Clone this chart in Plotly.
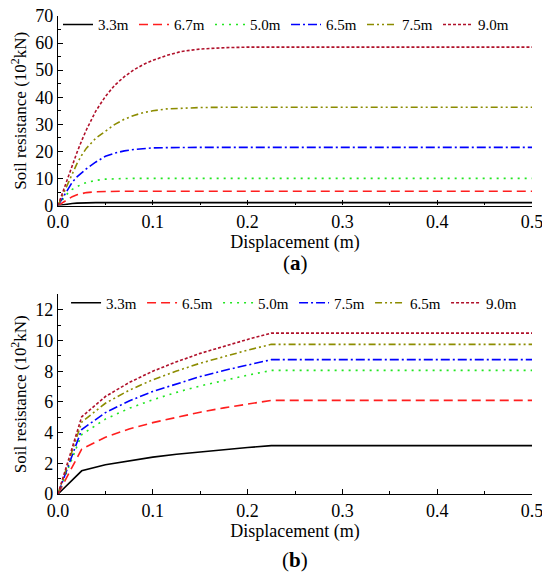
import plotly.graph_objects as go

# ---------- data (a) ----------
x_a = [0, 0.005, 0.01, 0.015, 0.02, 0.025, 0.03, 0.04, 0.05, 0.06, 0.07, 0.08, 0.09,
       0.1, 0.115, 0.13, 0.15, 0.175, 0.2, 0.25, 0.3, 0.35, 0.4, 0.45, 0.5]
a_33 = [0, 0.3, 0.55, 0.75, 0.9, 1.0, 1.05, 1.1, 1.1, 1.1, 1.1, 1.1, 1.1,
        1.1, 1.1, 1.1, 1.1, 1.1, 1.1, 1.1, 1.1, 1.1, 1.1, 1.1, 1.1]
a_67 = [0, 1.2, 2.3, 3.3, 4.0, 4.5, 4.8, 5.1, 5.25, 5.3, 5.3, 5.3, 5.3,
        5.3, 5.3, 5.3, 5.3, 5.3, 5.3, 5.3, 5.3, 5.3, 5.3, 5.3, 5.3]
a_50 = [0, 2.4, 4.4, 6.0, 7.1, 7.9, 8.5, 9.3, 9.75, 9.95, 10.0, 10.05, 10.05,
        10.05, 10.05, 10.05, 10.05, 10.05, 10.05, 10.05, 10.05, 10.05, 10.05, 10.05, 10.05]
a_65 = [0, 3.0, 6.0, 8.6, 10.6, 12.2, 13.6, 16.1, 18.2, 19.4, 20.2, 20.7, 21.1,
        21.3, 21.4, 21.5, 21.5, 21.5, 21.5, 21.5, 21.5, 21.5, 21.5, 21.5, 21.5]
a_75 = [0, 4.0, 8.0, 12.0, 15.5, 18.6, 21.2, 24.9, 27.5, 30.0, 31.9, 33.3, 34.3,
        35.0, 35.7, 36.0, 36.2, 36.3, 36.3, 36.3, 36.3, 36.3, 36.3, 36.3, 36.3]
a_90 = [0, 5.0, 10.0, 15.0, 19.6, 24.0, 28.0, 35.0, 40.3, 44.5, 47.6, 50.1, 52.1,
        53.6, 55.5, 56.9, 57.8, 58.3, 58.5, 58.5, 58.5, 58.5, 58.5, 58.5, 58.5]

# ---------- data (b) ----------
x_b = [0, 0.025, 0.05, 0.075, 0.1, 0.125, 0.15, 0.175, 0.2, 0.225, 0.5]
b_33 = [0, 1.51, 1.91, 2.18, 2.40, 2.59, 2.75, 2.90, 3.03, 3.15, 3.15]
b_65 = [0, 2.93, 3.70, 4.23, 4.65, 5.01, 5.33, 5.61, 5.86, 6.10, 6.10]
b_50 = [0, 3.87, 4.88, 5.58, 6.14, 6.62, 7.04, 7.41, 7.74, 8.05, 8.05]
b_75 = [0, 4.20, 5.30, 6.06, 6.68, 7.19, 7.65, 8.05, 8.41, 8.75, 8.75]
b_65b = [0, 4.68, 5.91, 6.76, 7.44, 8.01, 8.52, 8.97, 9.37, 9.75, 9.75]
b_90 = [0, 5.03, 6.35, 7.26, 8.00, 8.61, 9.16, 9.64, 10.07, 10.48, 10.48]

names_a = ["3.3m", "6.7m", "5.0m", "6.5m", "7.5m", "9.0m"]
names_b = ["3.3m", "6.5m", "5.0m", "7.5m", "6.5m", "9.0m"]

colors = ["#000000", "#FF1E1E", "#22E622", "#0000FF", "#8C8C00", "#B0102A"]
dashes = ["solid", "9px,5px", "2px,5px", "9px,3px,2px,3px",
          "7px,3px,2px,3px,2px,3px", "3px,2px"]

FONT = "Times New Roman, Liberation Serif, DejaVu Serif, serif"

fig = go.Figure()
for ys, nm, c, d in zip([a_33, a_67, a_50, a_65, a_75, a_90], names_a, colors, dashes):
    fig.add_trace(go.Scatter(x=x_a, y=ys, name=nm, mode="lines",
                             line=dict(color=c, dash=d, width=1.6),
                             xaxis="x", yaxis="y", legend="legend"))
for ys, nm, c, d in zip([b_33, b_65, b_50, b_75, b_65b, b_90], names_b, colors, dashes):
    fig.add_trace(go.Scatter(x=x_b, y=ys, name=nm, mode="lines",
                             line=dict(color=c, dash=d, width=1.6),
                             xaxis="x2", yaxis="y2", legend="legend2"))

axis_common = dict(showline=True, linecolor="black", linewidth=1.3, ticks="inside",
                   ticklen=5, tickwidth=1.2, tickcolor="black", showgrid=False,
                   zeroline=False, tickfont=dict(family=FONT, size=18, color="black"),
                   mirror=False, automargin=False, ticklabeloverflow="allow")

ytitle = dict(text="Soil resistance (10<sup>2</sup>kN)",
              font=dict(family=FONT, size=17, color="black"), standoff=4)
xtitle = dict(text="Displacement (m)", font=dict(family=FONT, size=18, color="black"),
              standoff=0)

legend_common = dict(orientation="h", xanchor="left",
                     font=dict(family=FONT, size=15, color="black"),
                     bgcolor="rgba(0,0,0,0)", borderwidth=0,
                     entrywidth=31, entrywidthmode="pixels", itemwidth=30,
                     tracegroupgap=0)

# page body has an 8px margin: figure is sized/offset to compensate
W, H = 534, 569
ML, MR, MT, MB = 49.5, 9.5, 7.7, 82.7
PH = H - MT - MB

fig.update_layout(
    width=W, height=H,
    margin=dict(l=ML, r=MR, t=MT, b=MB, autoexpand=False),
    paper_bgcolor="white", plot_bgcolor="white",
    font=dict(family=FONT, color="black"),
    xaxis=dict(domain=[0, 1], range=[0, 0.5], dtick=0.1, tickformat=".1f",
               minor=dict(dtick=0.05, ticks="inside", ticklen=3, tickcolor="black"),
               anchor="y", title=xtitle, **axis_common),
    yaxis=dict(domain=[0.6034, 1], range=[0, 70], dtick=10,
               minor=dict(dtick=5, ticks="inside", ticklen=3, tickcolor="black"),
               anchor="x", title=ytitle, **axis_common),
    xaxis2=dict(domain=[0, 1], range=[0, 0.5], dtick=0.1, tickformat=".1f",
                minor=dict(dtick=0.05, ticks="inside", ticklen=3, tickcolor="black"),
                anchor="y2", title=xtitle, **axis_common),
    yaxis2=dict(domain=[0, 0.4175], range=[0, 13], dtick=2,
                minor=dict(dtick=1, ticks="inside", ticklen=3, tickcolor="black"),
                anchor="x2", title=ytitle, **axis_common),
    legend=dict(x=0.0, y=1.0161, yanchor="top", **legend_common),
    legend2=dict(x=0.017, y=0.3997, yanchor="middle", **legend_common),
    showlegend=True,
    annotations=[
        dict(text="(<b>a</b>)", x=0.5, xref="paper", y=263, yref="paper",
             showarrow=False, font=dict(family=FONT, size=21, color="black")),
        dict(text="(<b>b</b>)", x=0.5, xref="paper", y=560, yref="paper",
             showarrow=False, font=dict(family=FONT, size=21, color="black")),
    ],
)

# convert annotation screen-pixel y to paper coords
for ann in fig.layout.annotations:
    ypix = ann.y - 8
    ann.y = (H - MB - ypix) / PH
    ann.yanchor = "middle"

fig.write_html("out.html")
